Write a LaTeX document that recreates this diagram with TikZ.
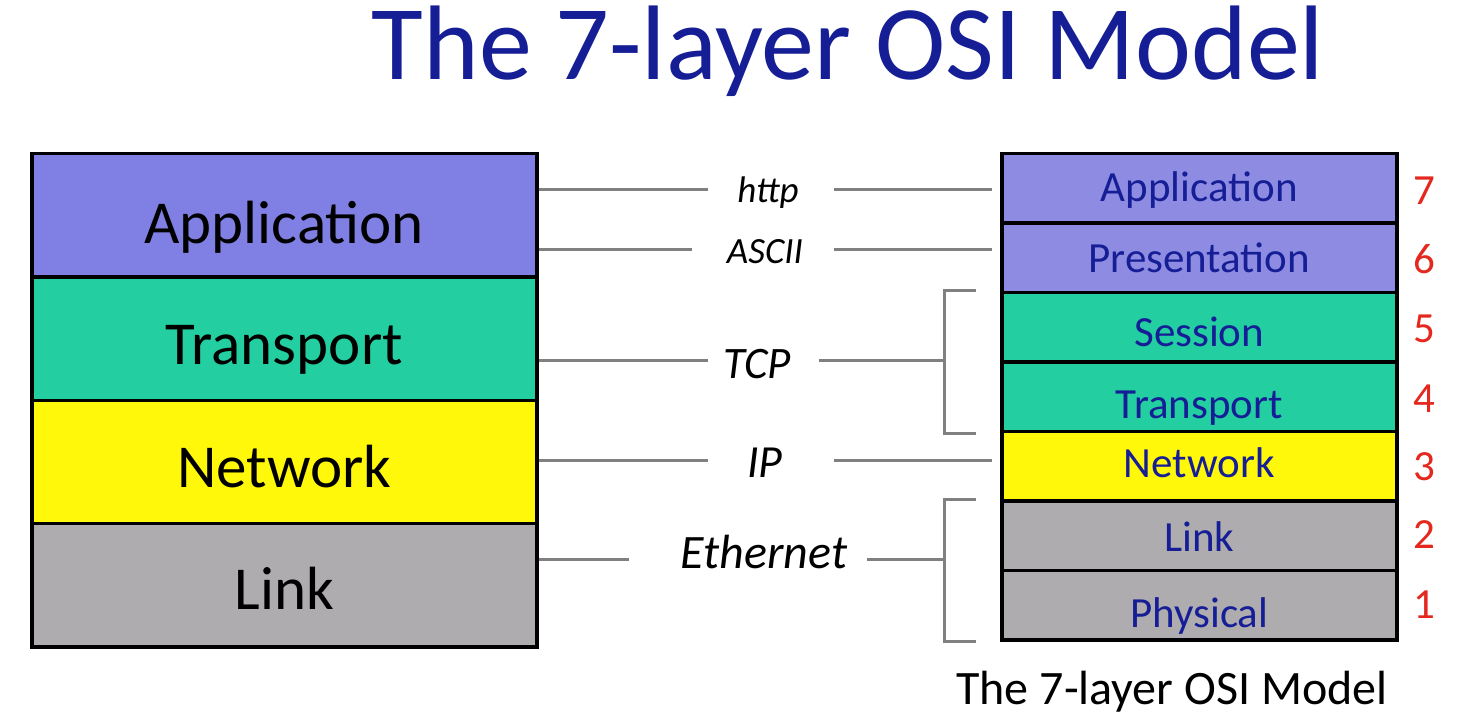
\documentclass[tikz,border=0pt]{standalone}
\usepackage{fontspec}
\setmainfont{Carlito}
\usetikzlibrary{calc}
\definecolor{appc}{RGB}{128,128,228}
\definecolor{appr}{RGB}{142,140,226}
\definecolor{tealc}{RGB}{35,206,160}
\definecolor{yelc}{RGB}{255,248,10}
\definecolor{grayc}{RGB}{175,172,176}
\definecolor{navy}{RGB}{22,30,150}
\definecolor{numred}{RGB}{228,40,30}
\definecolor{connc}{RGB}{128,128,128}
\begin{document}
\begin{tikzpicture}[x=1pt,y=-1pt,
  lbox/.style={draw=black, line width=3.5pt, minimum width=505pt, minimum height=123.25pt,
    anchor=north west, inner sep=0pt, font=\fontsize{61}{61}\selectfont, text height=51pt, text depth=0pt},
  rbox/.style={draw=black, line width=3.5pt, minimum width=395pt, minimum height=69.43pt,
    anchor=north west, inner sep=0pt, text=navy, font=\fontsize{43}{43}\selectfont, text depth=0pt},
  proto/.style={anchor=base, inner sep=0pt, font=\itshape\fontsize{#1}{#1}\selectfont},
  num/.style={anchor=base, inner sep=0pt, text=numred, font=\fontsize{43}{43}\selectfont},
  conn/.style={draw=connc, line width=3pt}]
\useasboundingbox (0,0) rectangle (1462,714);
\fill[white] (0,0) rectangle (1462,714);

% title
\node[anchor=base, inner sep=0pt, text=navy, font=\fontsize{106}{106}\selectfont] (title) at (848,80) {The 7-layer OSI Model};

% left stack
\node[lbox, fill=appc, text height=57pt] (lapp) at (30,152) {Application};
\node[lbox, fill=tealc] (ltrans) at (30,275.25) {Transport};
\node[lbox, fill=yelc] (lnet) at (30,398.5) {Network};
\node[lbox, fill=grayc, text height=49pt] (llink) at (30,521.75) {Link};

% right stack
\node[rbox, fill=appr, text height=26.5pt] (rapp) at (1000,152) {Application};
\node[rbox, fill=appr, text height=28.5pt] (rpres) at (1000,221.43) {Presentation};
\node[rbox, fill=tealc, text height=38.5pt] (rses) at (1000,290.86) {Session};
\node[rbox, fill=tealc, text height=42.5pt] (rtrans) at (1000,360.29) {Transport};
\node[rbox, fill=yelc, text height=22.5pt] (rnet) at (1000,429.71) {Network};
\node[rbox, fill=grayc, text height=32.5pt] (rlink) at (1000,499.14) {Link};
\node[rbox, fill=grayc, text height=44.5pt] (rphys) at (1000,568.57) {Physical};

% layer numbers
\node[num] (n7) at (1424,205) {7};
\node[num] (n6) at (1424,273) {6};
\node[num] (n5) at (1424,342) {5};
\node[num] (n4) at (1424,412) {4};
\node[num] (n3) at (1424,480) {3};
\node[num] (n2) at (1424,548) {2};
\node[num] (n1) at (1424,618) {1};

% protocol labels
\node[proto=37] (http) at (768,203) {http};
\node[proto=37] (ascii) at (765,263) {ASCII};
\node[proto=45] (tcp) at (757,378) {TCP};
\node[proto=46] (ip) at (765,477) {IP};
\node[proto=48] (eth) at (764,568) {Ethernet};

% gap ends of the connectors
\coordinate (httpL) at (708,190);
\coordinate (httpR) at (834,190);
\coordinate (asciiL) at (692,250);
\coordinate (asciiR) at (834,250);
\coordinate (tcpL) at (708,360);
\coordinate (tcpR) at (819,360);
\coordinate (ipL) at (708,460);
\coordinate (ipR) at (834,460);
\coordinate (ethL) at (629,559);
\coordinate (ethR) at (867,559);

% brackets
\coordinate (tcpTop) at ([xshift=-56pt]rses.north west);
\coordinate (tcpBot) at ([xshift=-56pt]rtrans.south west);
\coordinate (ethTop) at ([xshift=-56pt]rlink.north west);
\coordinate (ethBot) at ([xshift=-56pt]rphys.south west);

% connectors
\draw[conn] (lapp.east |- httpL) -- (httpL);
\draw[conn, shorten >=8pt] (httpR) -- (rapp.west |- httpR);
\draw[conn] (lapp.east |- asciiL) -- (asciiL);
\draw[conn, shorten >=8pt] (asciiR) -- (rpres.west |- asciiR);
\draw[conn] (ltrans.east |- tcpL) -- (tcpL);
\draw[conn] (tcpR) -- (tcpR -| tcpTop);
\draw[conn] ([xshift=-24pt]rses.north west) -- (tcpTop) -- (tcpBot) -- ([xshift=-24pt]rtrans.south west);
\draw[conn] (lnet.east |- ipL) -- (ipL);
\draw[conn, shorten >=8pt] (ipR) -- (rnet.west |- ipR);
\draw[conn] (llink.east |- ethL) -- (ethL);
\draw[conn] (ethR) -- (ethR -| ethTop);
\draw[conn] ([xshift=-24pt]rlink.north west) -- (ethTop) -- (ethBot) -- ([xshift=-24pt]rphys.south west);

% caption
\node[anchor=base, inner sep=0pt, font=\fontsize{48}{48}\selectfont] (caption) at (1172,704) {The 7-layer OSI Model};
\end{tikzpicture}
\end{document}
